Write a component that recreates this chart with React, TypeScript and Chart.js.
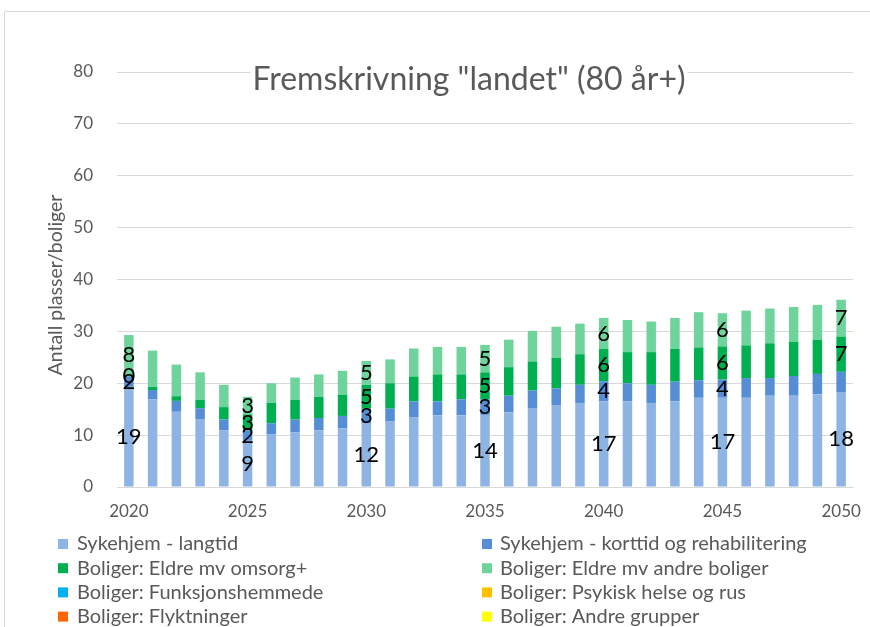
import React, { useEffect, useRef } from "react";
import { Chart, registerables } from "chart.js";

Chart.register(...registerables);

const years = [
  "2020", "2021", "2022", "2023", "2024", "2025", "2026", "2027", "2028", "2029",
  "2030", "2031", "2032", "2033", "2034", "2035", "2036", "2037", "2038", "2039",
  "2040", "2041", "2042", "2043", "2044", "2045", "2046", "2047", "2048", "2049", "2050",
];

const shownYears = ["2020", "2025", "2030", "2035", "2040", "2045", "2050"];

const langtid = [19.3, 16.9, 14.5, 13.1, 10.9, 8.9, 10.2, 10.5, 10.9, 11.3, 12.2, 12.6, 13.4, 13.8, 13.8, 13.9, 14.4, 15.1, 15.8, 16.2, 16.5, 16.5, 16.2, 16.5, 17.2, 17.2, 17.2, 17.6, 17.6, 17.9, 18.3];
const korttid = [2.0, 1.8, 2.1, 2.1, 2.1, 2.0, 2.1, 2.5, 2.4, 2.4, 2.9, 2.5, 3.1, 2.7, 3.1, 3.0, 3.2, 3.5, 3.2, 3.5, 3.9, 3.5, 3.5, 3.8, 3.4, 3.5, 3.8, 3.4, 3.8, 3.9, 3.9];
const omsorg = [0.2, 0.6, 0.9, 1.6, 2.4, 3.1, 3.9, 3.8, 4.1, 4.1, 4.6, 4.9, 4.8, 5.2, 4.8, 5.2, 5.5, 5.6, 5.9, 5.9, 6.2, 6.0, 6.3, 6.3, 6.3, 6.4, 6.3, 6.7, 6.6, 6.6, 6.8];
const andre = [7.8, 7.0, 6.1, 5.3, 4.3, 3.4, 3.8, 4.3, 4.3, 4.6, 4.6, 4.6, 5.4, 5.3, 5.3, 5.3, 5.3, 5.9, 6.0, 5.9, 6.0, 6.2, 5.9, 6.0, 6.8, 6.4, 6.7, 6.7, 6.7, 6.7, 7.1];
const funksjonshemmede = years.map(() => 0);
const psykisk = years.map(() => 0);
const flyktninger = years.map(() => 0);
const andreGrupper = years.map(() => 0);

const seriesNames = [
  "Sykehjem - langtid",
  "Sykehjem - korttid og rehabilitering",
  "Boliger: Eldre mv omsorg+",
  "Boliger: Eldre mv andre boliger",
  "Boliger: Funksjonshemmede",
  "Boliger: Psykisk helse og rus",
  "Boliger: Flyktninger",
  "Boliger: Andre grupper",
];
const seriesValues = [langtid, korttid, omsorg, andre, funksjonshemmede, psykisk, flyktninger, andreGrupper];
const seriesColors = ["#8EB4E3", "#558ED5", "#00B050", "#6FD49B", "#00B0F0", "#FFC000", "#FF6600", "#FFFF00"];

const titleText = 'Fremskrivning "landet" (80 år+)';
const yTitle = "Antall plasser/boliger";
const yMin = 0;
const yMax = 80;
const yStep = 10;

const FONT = "Lato, 'Open Sans', sans-serif";
const GRAY = "#595959";

const labelPlugin = {
  id: "segLabels",
  afterDatasetsDraw(chart: any) {
    const ctx = chart.ctx;
    ctx.save();
    ctx.font = `22px ${FONT}`;
    ctx.fillStyle = "#000";
    ctx.textAlign = "center";
    ctx.textBaseline = "middle";
    for (let d = 0; d < 4; d++) {
      const meta = chart.getDatasetMeta(d);
      shownYears.forEach((yr) => {
        const idx = years.indexOf(yr);
        if (d === 1 && idx === years.length - 1) return;
        const el = meta.data[idx];
        if (!el) return;
        const p = el.getProps(["x", "y", "base"], true);
        const v = chart.data.datasets[d].data[idx];
        ctx.fillText(String(Math.round(v)), p.x, (p.y + p.base) / 2);
      });
    }
    ctx.restore();
  },
};

const titlePlugin = {
  id: "overTitle",
  afterDraw(chart: any) {
    const ctx = chart.ctx;
    ctx.save();
    // chart title, overlapping the top gridline
    ctx.font = `32px ${FONT}`;
    const w = ctx.measureText(titleText).width;
    const cx = 464;
    const base = 78;
    ctx.fillStyle = "#fff";
    ctx.fillRect(cx - w / 2 - 2, base - 26, w + 4, 34);
    ctx.fillStyle = GRAY;
    ctx.textAlign = "center";
    ctx.textBaseline = "alphabetic";
    ctx.fillText(titleText, cx, base);
    // y-axis title
    ctx.font = `19.5px ${FONT}`;
    ctx.translate(57, 273);
    ctx.rotate(-Math.PI / 2);
    ctx.textAlign = "center";
    ctx.textBaseline = "alphabetic";
    ctx.fillText(yTitle, 0, 0);
    ctx.restore();
  },
};

const legendPlugin = {
  id: "gridLegend",
  afterDraw(chart: any) {
    const ctx = chart.ctx;
    ctx.save();
    ctx.font = `20px ${FONT}`;
    ctx.textBaseline = "middle";
    ctx.textAlign = "left";
    const markerX = [53, 477];
    const textX = [72, 495];
    chart.data.datasets.forEach((ds: any, i: number) => {
      const col = i % 2;
      const row = Math.floor(i / 2);
      const y = 532 + row * 24.2;
      ctx.fillStyle = ds.backgroundColor;
      ctx.fillRect(markerX[col], y - 5, 10, 10);
      ctx.fillStyle = GRAY;
      ctx.fillText(ds.label, textX[col], y);
    });
    ctx.restore();
  },
};

export default function App() {
  const ref = useRef<HTMLCanvasElement>(null);
  useEffect(() => {
    const canvas = ref.current;
    if (!canvas) return;
    const chart = new Chart(canvas, {
      type: "bar",
      data: {
        labels: years,
        datasets: seriesNames.map((name, i) => ({
          label: name,
          data: seriesValues[i],
          backgroundColor: seriesColors[i],
          borderWidth: 0,
          barPercentage: 0.4,
          categoryPercentage: 1,
        })),
      },
      options: {
        responsive: false,
        animation: false,
        devicePixelRatio: 1,
        layout: { padding: { left: 0, right: 32, top: 60, bottom: 135 } },
        plugins: {
          legend: { display: false },
          title: { display: false },
          tooltip: { enabled: false },
        },
        scales: {
          x: {
            stacked: true,
            grid: { display: false, drawTicks: false },
            border: { display: true, color: "#d9d9d9" },
            ticks: {
              autoSkip: false,
              maxRotation: 0,
              minRotation: 0,
              padding: 14,
              color: GRAY,
              font: { family: FONT, size: 17 },
              callback: (_v: any, i: number) => (shownYears.includes(years[i]) ? years[i] : null),
            },
            afterFit: (s: any) => {
              s.height = 30;
            },
          },
          y: {
            stacked: true,
            min: yMin,
            max: yMax,
            ticks: { stepSize: yStep, padding: 24, color: GRAY, font: { family: FONT, size: 17 } },
            grid: { color: "#d9d9d9", drawTicks: false, lineWidth: 1 },
            border: { display: false },
            title: { display: false },
            afterFit: (s: any) => {
              s.width = 112;
            },
          },
        },
      },
      plugins: [labelPlugin, titlePlugin, legendPlugin],
    });
    return () => chart.destroy();
  }, []);

  return (
    <div
      style={{
        position: "fixed",
        left: 0,
        top: 0,
        width: 870,
        height: 627,
        overflow: "hidden",
        background: "#fff",
      }}
    >
      <div
        style={{
          position: "absolute",
          left: 4,
          top: 11,
          width: 880,
          height: 640,
          border: "1px solid #d9d9d9",
        }}
      >
        <canvas ref={ref} width={880} height={640} style={{ display: "block", width: 880, height: 640 }} />
      </div>
    </div>
  );
}
